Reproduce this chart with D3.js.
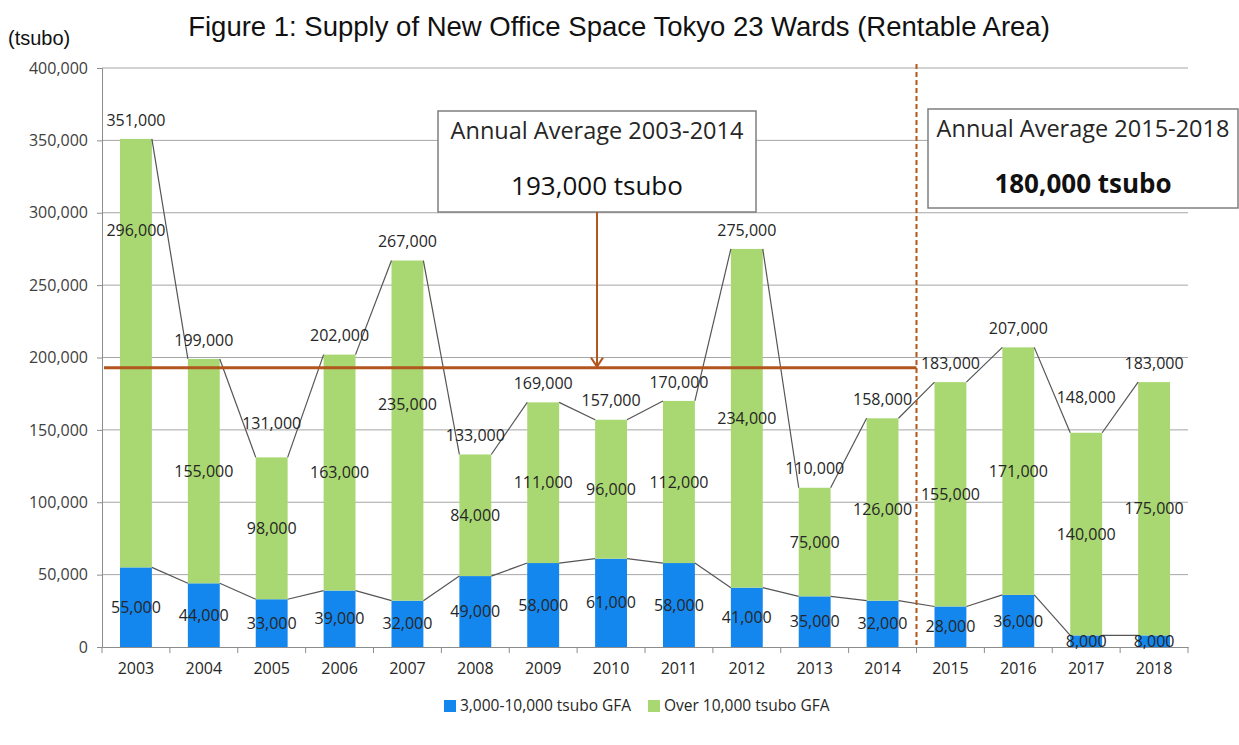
<!DOCTYPE html>
<html>
<head>
<meta charset="utf-8">
<script src="https://cdn.jsdelivr.net/npm/d3@7"></script>
<style>
  body { margin: 0; background: #fff; }
  text { font-family: "Open Sans", sans-serif; }
</style>
</head>
<body>
<div id="chart"></div>
<script>
// data (tsubo)
var years = ["2003","2004","2005","2006","2007","2008","2009","2010","2011","2012","2013","2014","2015","2016","2017","2018"];
var small = [55000,44000,33000,39000,32000,49000,58000,61000,58000,41000,35000,32000,28000,36000,8000,8000];
var large = [296000,155000,98000,163000,235000,84000,111000,96000,112000,234000,75000,126000,155000,171000,140000,175000];
var yTicks = [0,50000,100000,150000,200000,250000,300000,350000,400000];
var avgPast = 193000, avgFuture = 180000;
var seriesNames = ["3,000-10,000 tsubo GFA", "Over 10,000 tsubo GFA"];

var totals = small.map((d,i) => d + large[i]);
var fmt = d3.format(",");

// hand-moved labels in the original
var nudgeLarge = {"2003": -123, "2007": -26};
var nudgeTotal = {"2005": -15, "2017": -16};

var W = 1239, H = 745;
var margin = {top: 68, right: 51, bottom: 98, left: 102},
    width = W - margin.left - margin.right,
    height = H - margin.top - margin.bottom;

var blue = "#1487ef", green = "#a9d872", brown = "#b3561d";

var svg = d3.select("#chart").append("svg")
    .attr("width", W).attr("height", H);

svg.append("text")
    .attr("x", 619).attr("y", 36)
    .attr("text-anchor", "middle")
    .style("font-family", "'Liberation Sans', Arial, sans-serif")
    .style("font-size", "27.5px")
    .attr("fill", "#111")
    .text("Figure 1: Supply of New Office Space Tokyo 23 Wards (Rentable Area)");

svg.append("text")
    .attr("x", 8).attr("y", 45)
    .style("font-family", "'Liberation Sans', Arial, sans-serif")
    .style("font-size", "20px")
    .attr("fill", "#111")
    .text("(tsubo)");

var g = svg.append("g")
    .attr("transform", "translate(" + margin.left + "," + margin.top + ")");

var x = d3.scaleBand().domain(years).range([0, width])
    .paddingInner(0.53).paddingOuter(0.265);
var y = d3.scaleLinear().domain([0, 400000]).range([height, 0]);

// gridlines
g.append("g").selectAll("line")
  .data(yTicks.filter(d => d > 0))
  .enter().append("line")
    .attr("x1", 0).attr("x2", width)
    .attr("y1", d => y(d)).attr("y2", d => y(d))
    .attr("stroke", "#a6a6a6").attr("stroke-width", 1);

// y axis
var yAxis = g.append("g")
    .call(d3.axisLeft(y).tickValues(yTicks).tickFormat(fmt).tickSize(5).tickPadding(9));
yAxis.select(".domain").attr("stroke", "#8c8c8c");
yAxis.selectAll(".tick line").attr("stroke", "#8c8c8c");
yAxis.selectAll("text").style("font-size", "16px").attr("fill", "#404040")
    .style("font-family", "'Open Sans', sans-serif");

// x axis with ticks at category boundaries
var xAxis = g.append("g").attr("transform", "translate(0," + height + ")")
    .call(d3.axisBottom(x).tickSize(0).tickPadding(16));
xAxis.select(".domain").attr("stroke", "#8c8c8c");
xAxis.selectAll("text").style("font-size", "16px").attr("fill", "#262626")
    .style("font-family", "'Open Sans', sans-serif");
g.append("g").selectAll("line")
  .data(d3.range(years.length + 1))
  .enter().append("line")
    .attr("x1", i => i * x.step()).attr("x2", i => i * x.step())
    .attr("y1", height).attr("y2", height + 6)
    .attr("stroke", "#8c8c8c");

// stacked bars
g.append("g").selectAll("rect")
  .data(years).enter().append("rect")
    .attr("x", d => x(d)).attr("width", x.bandwidth())
    .attr("y", (d,i) => y(small[i])).attr("height", (d,i) => height - y(small[i]))
    .attr("fill", blue);
g.append("g").selectAll("rect")
  .data(years).enter().append("rect")
    .attr("x", d => x(d)).attr("width", x.bandwidth())
    .attr("y", (d,i) => y(totals[i])).attr("height", (d,i) => y(small[i]) - y(totals[i]))
    .attr("fill", green);

// series lines (right top corner to next left top corner)
function seriesLines(vals) {
  g.append("g").selectAll("line")
    .data(years.slice(0, -1)).enter().append("line")
      .attr("x1", d => x(d) + x.bandwidth())
      .attr("y1", (d,i) => y(vals[i]))
      .attr("x2", (d,i) => x(years[i+1]))
      .attr("y2", (d,i) => y(vals[i+1]))
      .attr("stroke", "#555").attr("stroke-width", 1.2);
}
seriesLines(small);
seriesLines(totals);

// average line and period divider
var split = x.step() * 12;
g.append("line")
    .attr("x1", 2).attr("x2", split)
    .attr("y1", y(avgPast)).attr("y2", y(avgPast))
    .attr("stroke", brown).attr("stroke-width", 3);
g.append("line")
    .attr("x1", split).attr("x2", split)
    .attr("y1", -4).attr("y2", height)
    .attr("stroke", brown).attr("stroke-width", 2)
    .attr("stroke-dasharray", "5,3");

// labels
var lab = g.append("g").style("font-size", "16px").attr("fill", "#262626")
    .attr("text-anchor", "middle");
lab.selectAll(".s").data(years).enter().append("text")
    .attr("x", d => x(d) + x.bandwidth() / 2)
    .attr("y", (d,i) => (y(0) + y(small[i])) / 2)
    .attr("dy", "0.35em")
    .text((d,i) => fmt(small[i]));
lab.selectAll(".l").data(years).enter().append("text")
    .attr("x", d => x(d) + x.bandwidth() / 2)
    .attr("y", (d,i) => (y(small[i]) + y(totals[i])) / 2 + (nudgeLarge[d] || 0))
    .attr("dy", "0.35em")
    .text((d,i) => fmt(large[i]));
lab.selectAll(".t").data(years).enter().append("text")
    .attr("x", d => x(d) + x.bandwidth() / 2)
    .attr("y", (d,i) => y(totals[i]) - 19 + (nudgeTotal[d] || 0))
    .attr("dy", "0.35em")
    .text((d,i) => fmt(totals[i]));

// annotation boxes
function box(x0, y0, w, h, line1, line2, bold) {
  var b = svg.append("g");
  b.append("rect").attr("x", x0).attr("y", y0).attr("width", w).attr("height", h)
    .attr("fill", "#fff").attr("stroke", "#7f7f7f").attr("stroke-width", 1.5);
  b.append("text").attr("x", x0 + w / 2).attr("y", y0 + 28)
    .attr("text-anchor", "middle").style("font-size", "23.5px").attr("fill", "#262626")
    .text(line1);
  b.append("text").attr("x", x0 + w / 2).attr("y", y0 + 84)
    .attr("text-anchor", "middle").style("font-size", "26px")
    .style("font-weight", bold ? "bold" : "normal").attr("fill", "#111")
    .text(line2);
}
box(438, 111, 318, 101, "Annual Average 2003-2014", fmt(avgPast) + "  tsubo", false);
box(928, 109, 310, 99, "Annual Average 2015-2018", fmt(avgFuture) + "  tsubo", true);

// arrow from box to average line
var ax = 597, ay = margin.top + y(avgPast) - 1;
svg.append("line").attr("x1", ax).attr("x2", ax).attr("y1", 212).attr("y2", ay)
    .attr("stroke", brown).attr("stroke-width", 2);
svg.append("path")
    .attr("d", "M" + (ax - 6) + "," + (ay - 9) + "L" + ax + "," + ay + "L" + (ax + 6) + "," + (ay - 9))
    .attr("fill", "none").attr("stroke", brown).attr("stroke-width", 2);

// legend
var legend = svg.append("g").attr("transform", "translate(444,700)");
var items = legend.selectAll("g").data(seriesNames).enter().append("g")
    .attr("transform", (d,i) => "translate(" + (i * 204) + ",0)");
items.append("rect").attr("width", 12).attr("height", 12)
    .attr("fill", (d,i) => i === 0 ? blue : green);
items.append("text").attr("x", 16).attr("y", 6).attr("dy", "0.35em")
    .style("font-size", "15.5px").attr("fill", "#262626")
    .text(d => d);
</script>
</body>
</html>
